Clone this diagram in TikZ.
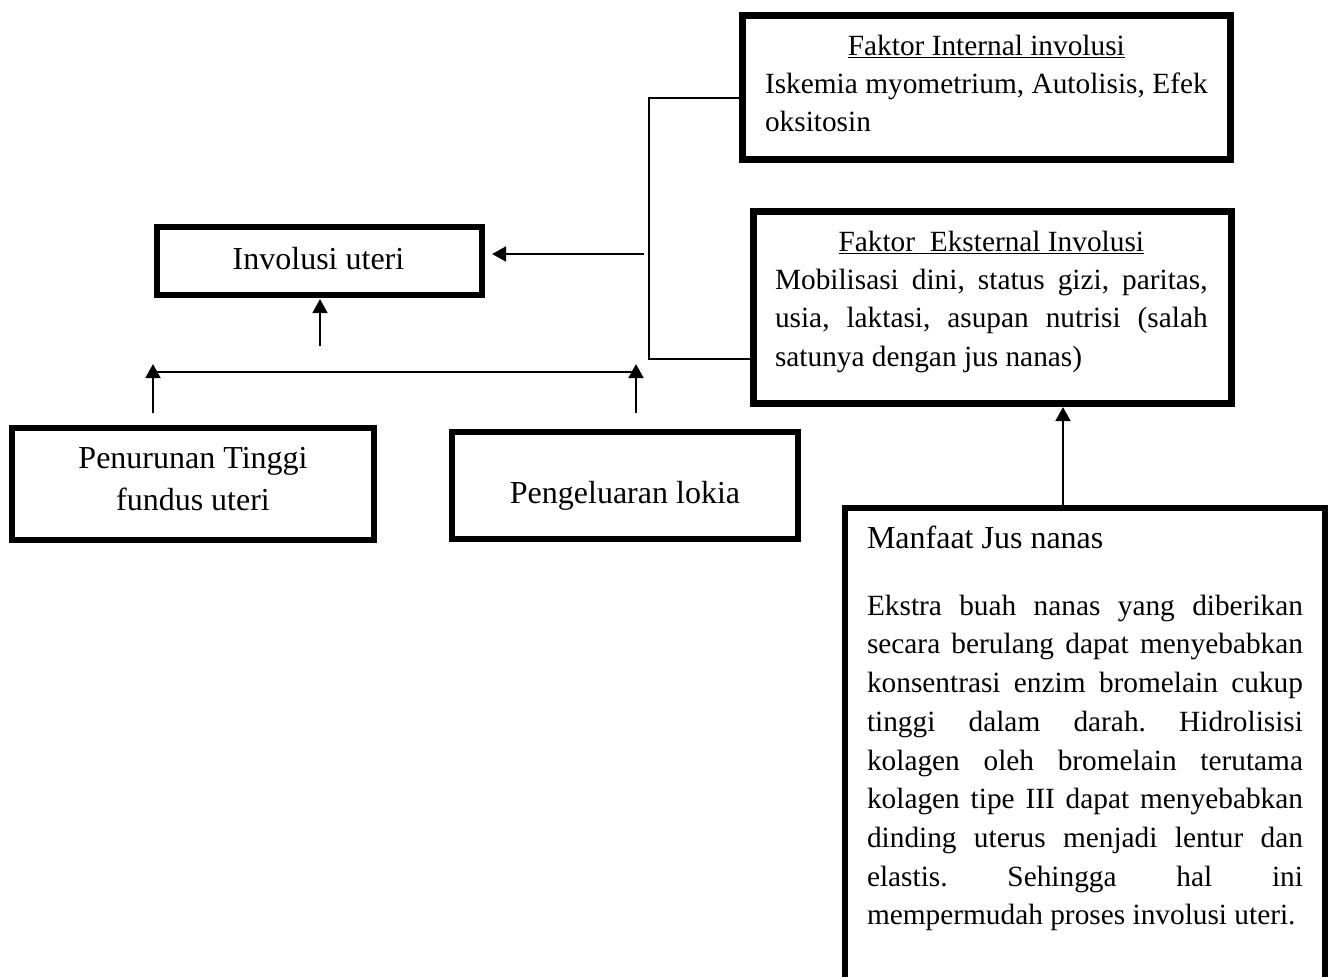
\documentclass[tikz,border=0pt]{standalone}
\usepackage{fontspec}
\setmainfont{Liberation Serif}
\usetikzlibrary{arrows.meta}
\hyphenpenalty=10000
\exhyphenpenalty=10000
\tolerance=10000
\hbadness=10000
\hfuzz=20pt
\newcommand\jbody{\leftskip=0pt\rightskip=0pt\parfillskip=0pt plus 1fil\relax}
\tikzset{
  box/.style={draw, line width=4.5pt, inner sep=0pt},
  thickbox/.style={box, line width=5.25pt},
  txt/.style={inner sep=0pt, outer sep=0pt, font=\frenchspacing\fontsize{22pt}{28.8pt}\selectfont},
  bigtxt/.style={inner sep=0pt, outer sep=0pt, font=\frenchspacing\fontsize{24pt}{31.5pt}\selectfont},
  arr/.style={line width=2pt, -{Triangle[length=10.5pt,width=11pt]}},
  conn/.style={line width=1.3pt},
}
\begin{document}
\begin{tikzpicture}[x=0.75pt, y=-0.75pt]
\useasboundingbox (0,0) rectangle (1334,976);
% boxes
\node[thickbox, minimum width=366pt, minimum height=108pt] (int) at (986.5,87.5) {};
\node[thickbox, minimum width=358.5pt, minimum height=144pt] (ext) at (992.5,307.5) {};
\node[box, minimum width=243.75pt, minimum height=51pt] (inv) at (319.5,261) {};
\node[box, minimum width=271.5pt, minimum height=84pt] (pen) at (193,484) {};
\node[box, minimum width=259.5pt, minimum height=80.25pt] (pgl) at (625,485.5) {};
\node[box, minimum width=360pt, minimum height=369pt] (man) at (1085,754) {};
% texts
\node[txt, anchor=base west] (intT) at (765,55) {\parbox[t]{332pt}{\centering\underline{Faktor Internal involusi}\par
  \jbody Iskemia myometrium, Autolisis, Efek\linebreak oksitosin}};
\node[txt, anchor=base west] (extT) at (775,251) {\parbox[t]{324.5pt}{\centering\underline{Faktor~~Eksternal Involusi}\par
  \jbody Mobilisasi dini, status gizi, paritas,\linebreak usia, laktasi, asupan nutrisi (salah\linebreak satunya dengan jus nanas)}};
\node[bigtxt, anchor=base] (invT) at (318.5,269) {Involusi uteri};
\node[bigtxt, anchor=base] (penT) at (193,468) {\parbox[t]{300pt}{\centering Penurunan Tinggi\\fundus uteri}};
\node[bigtxt, anchor=base] (pglT) at (625,503) {Pengeluaran lokia};
\node[bigtxt, anchor=base west] (manH) at (867,548) {Manfaat Jus nanas};
\node[txt, anchor=base west] (manB) at (867,615) {\parbox[t]{327pt}{\fontsize{22pt}{29.06pt}\selectfont\jbody
  Ekstra buah nanas yang diberikan\linebreak
  secara berulang dapat menyebabkan\linebreak
  konsentrasi enzim bromelain cukup\linebreak
  tinggi dalam darah. Hidrolisisi\linebreak
  kolagen oleh bromelain terutama\linebreak
  kolagen tipe III dapat menyebabkan\linebreak
  dinding uterus menjadi lentur dan\linebreak
  elastis. Sehingga hal ini\linebreak
  mempermudah~proses~involusi~uteri.}};
% connectors
\coordinate (jt) at (649,98);
\coordinate (jb) at (649,359);
\draw[conn] (int.west |- jt) -- (jt) -- (jb) -- ([xshift=3pt]ext.west |- jb);
\coordinate (ja) at (644,254);
\draw[arr, shorten >=5.25pt] (ja) -- (inv.east |- ja);
\coordinate (jv) at (320,346);
\draw[arr, shorten >=0.75pt] (jv) -- (jv |- inv.south);
\coordinate (bl) at (153,372);
\coordinate (br) at (636,372);
\draw[conn] (bl) -- (br);
\draw[arr, shorten <=9pt] (pen.north -| bl) -- ([yshift=6pt]bl);
\draw[arr, shorten <=12pt] (pgl.north -| br) -- ([yshift=6pt]br);
\coordinate (mx) at (1063,508);
\draw[arr] (man.north -| mx) -- (ext.south -| mx);
\end{tikzpicture}
\end{document}
